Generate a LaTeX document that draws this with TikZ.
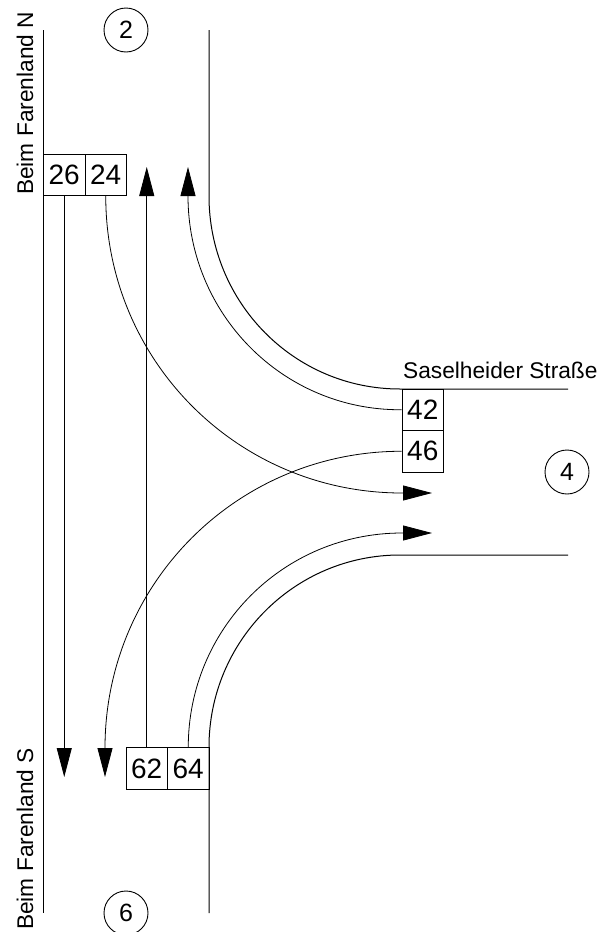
\documentclass[tikz,border=0pt]{standalone}
\usepackage{fontspec}
\setmainfont{Liberation Sans}
\usetikzlibrary{arrows.meta}
\tikzset{
  numbox/.style={draw, line width=0.9pt, minimum width=41.5pt, minimum height=41.5pt, inner sep=0pt, font=\fontsize{28}{30}\selectfont},
  zone/.style={draw, circle, line width=0.9pt, minimum size=44pt, inner sep=0pt, font=\fontsize{25}{27}\selectfont},
  road/.style={line width=1pt},
  flow/.style={line width=0.8pt, -{Triangle[length=29pt,width=15pt]}},
  lbl/.style={inner sep=0pt, font=\fontsize{22.7}{24}\selectfont}
}
\begin{document}
\begin{tikzpicture}[x=1pt,y=1pt]
\useasboundingbox (0,0) rectangle (600,-932);
% roads
\draw[road] (43,-30) -- (43,-913);
\draw[road] (209,-30) -- (209,-196) to[out=-90,in=180] (400,-389) -- (568,-389);
\draw[road] (568,-555) -- (400,-555) to[out=180,in=90] (209,-747) -- (209,-913);
% zone circles
\node[zone] (c2) at (126,-30) {2};
\node[zone] (c4) at (567,-472) {4};
\node[zone] (c6) at (126,-913) {6};
% labels
\node[lbl, rotate=90, anchor=base west] (lN) at (33,-195) {Beim Farenland N};
\node[lbl, rotate=90, anchor=base west] (lS) at (33,-930) {Beim Farenland S};
\node[lbl, anchor=base west] (lO) at (403,-378) {Saselheider Straße};
% signal boxes
\node[numbox] (b26) at (64.25,-175) {26};
\node[numbox] (b24) at (105.75,-175) {24};
\node[numbox] (b42) at (422.75,-409.75) {42};
\node[numbox] (b46) at (422.75,-451.25) {46};
\node[numbox] (b62) at (146.75,-768.5) {62};
\node[numbox] (b64) at (188.25,-768.5) {64};
% arrow tips and bends
\coordinate (t26) at (64.25,-777);
\coordinate (t46) at (105,-777);
\coordinate (k46) at (105,-748);
\coordinate (t62) at (146.75,-167);
\coordinate (t42) at (188,-167);
\coordinate (k42) at (188,-196);
\coordinate (h42) at (400,-409.75);
\coordinate (k24) at (402,-493);
\coordinate (t24) at (432,-493);
\coordinate (k64) at (402,-533);
\coordinate (t64) at (432,-533);
% flows
\draw[flow] (b26.south) -- (t26);
\draw[flow] (b24.south) to[out=-90,in=180] (k24) -- (t24);
\draw[flow] (b62.north) -- (t62);
\draw[flow] (b64.north) to[out=90,in=180] (k64) -- (t64);
\draw[flow] (b42.west) -- (h42) to[out=180,in=-90] (k42) -- (t42);
\draw[flow] (b46.west) to[out=180,in=90] (k46) -- (t46);
\end{tikzpicture}
\end{document}
